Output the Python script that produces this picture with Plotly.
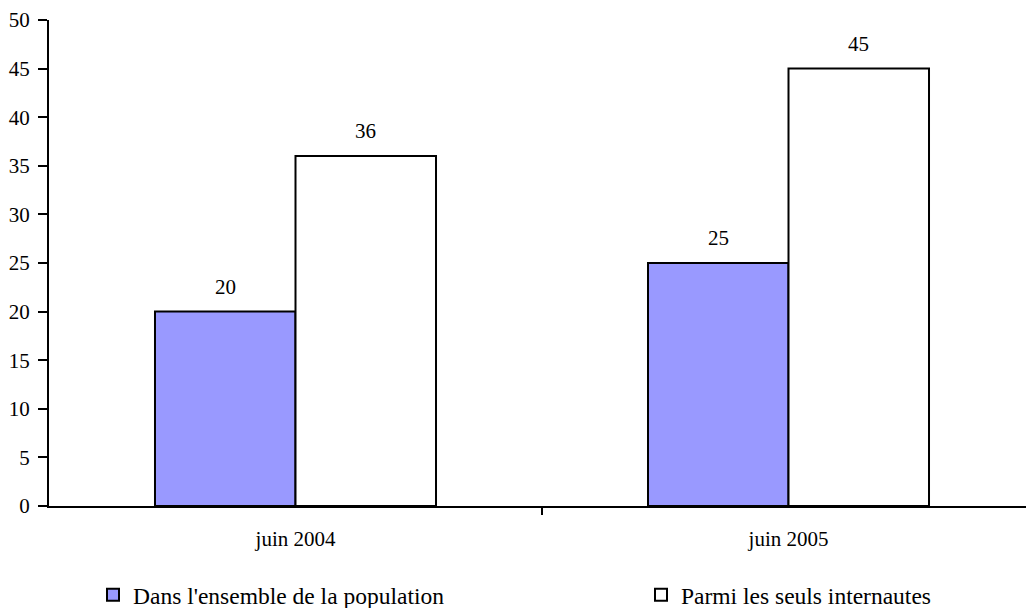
import plotly.graph_objects as go

categories = ["juin 2004", "juin 2005"]
series_names = ["Dans l'ensemble de la population", "Parmi les seuls internautes"]
population = [20, 25]
internautes = [36, 45]
y_ticks = list(range(0, 55, 5))

W, H = 1026, 608
L, R, T, B = 49, 0, 20, 102
cat_px = 493.0
plot_w = W - L - R
x_pos = list(range(len(categories)))
x_range = [-0.5, -0.5 + plot_w / cat_px]
bargap = 0.43
bar_w = (1 - bargap) / 2

font_family = "Liberation Serif, Times New Roman, serif"
FS = 21
FS_LEG = 23.5

series = [population, internautes]
colors = ["#9999FF", "white"]
legend_ids = ["legend", "legend2"]

fig = go.Figure()
for i, (vals, name, col, lg) in enumerate(zip(series, series_names, colors, legend_ids)):
    fig.add_trace(go.Bar(
        x=x_pos, y=vals, name=name, legend=lg,
        marker=dict(color=col, line=dict(color="black", width=2)),
        cliponaxis=False,
    ))
    for xp, v in zip(x_pos, vals):
        fig.add_annotation(
            x=xp + (i - 0.5) * bar_w, y=v, xref="x", yref="y",
            text=str(v), showarrow=False, yanchor="middle", yshift=25,
            font=dict(family=font_family, size=FS, color="black"),
        )

legend_common = dict(
    orientation="h", xref="container", yref="container",
    xanchor="left", yanchor="middle", y=1 - 595 / H,
    font=dict(family=font_family, size=FS_LEG, color="black"),
    bgcolor="rgba(0,0,0,0)", borderwidth=0,
)
fig.update_layout(
    template="none",
    width=W, height=H,
    margin=dict(l=L, r=R, t=T, b=B, pad=0),
    paper_bgcolor="white", plot_bgcolor="white",
    barmode="group", bargap=bargap, bargroupgap=0,
    font=dict(family=font_family, size=FS, color="black"),
    showlegend=True,
    legend=dict(x=93 / W, **legend_common),
    legend2=dict(x=641 / W, **legend_common),
)
fig.update_xaxes(
    range=x_range, tickmode="array", tickvals=x_pos, ticktext=categories,
    ticks="", showline=True, linecolor="black", linewidth=2,
    showgrid=False, zeroline=False, ticklabelstandoff=13, automargin=False,
    tickfont=dict(family=font_family, size=FS, color="black"),
    minor=dict(tickmode="array", tickvals=[0.5], ticks="outside",
               ticklen=7, tickwidth=2, tickcolor="black", showgrid=False),
)
fig.update_yaxes(
    range=[0, 50], tickmode="array", tickvals=y_ticks,
    ticks="outside", ticklen=9, tickwidth=2, tickcolor="black",
    showline=True, linecolor="black", linewidth=2,
    showgrid=False, zeroline=False, ticklabelstandoff=4, automargin=False,
    tickfont=dict(family=font_family, size=FS, color="black"),
)

fig.write_html(
    "out.html",
    config={"displayModeBar": False},
    post_script="document.body.style.margin='0';document.body.style.padding='0';",
)
